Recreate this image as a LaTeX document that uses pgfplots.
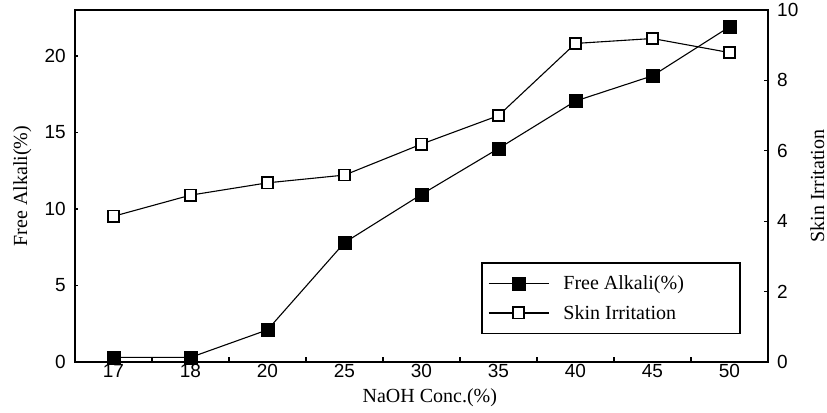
\documentclass[border=0pt]{standalone}
\usepackage{pgfplots}
\pgfplotsset{compat=1.18}
\usepackage{fontspec}
\setmainfont{Liberation Serif}
\newfontfamily\sansf{Liberation Sans}
\pgfplotstableread{
x y
0 0.3
1 0.3
2 2.1
3 7.8
4 10.95
5 13.95
6 17.05
7 18.7
8 21.9
}\freealkali
\pgfplotstableread{
x y
0 4.14
1 4.74
2 5.09
3 5.31
4 6.19
5 7.00
6 9.05
7 9.19
8 8.79
}\skinirr
\begin{document}
\begin{tikzpicture}
\path[use as bounding box] (-75bp,-51bp) rectangle (752bp,362bp);
\pgfplotsset{
  common/.style={
    scale only axis, width=693bp, height=352bp,
    at={(0,0)}, anchor=south west,
    xmin=-0.5, xmax=8.5, clip=false,
    tick align=inside,
    /pgf/number format/assume math mode=true,
    ticklabel style={font=\sansf\fontsize{19bp}{21bp}\selectfont},
    label style={font=\fontsize{20bp}{24bp}\selectfont},
    axis line style={line width=1.6bp},
    every tick/.style={black, line width=1.2bp},
  },
  fa/.style={black, line width=1.1bp, mark=square*, mark size=6.5bp, mark options={fill=black, draw=black, line width=0.5bp}},
  si/.style={black, line width=1.1bp, mark=square*, mark size=5.6bp, mark options={fill=white, draw=black, line width=1.6bp}},
}
\begin{axis}[common,
  ymin=0, ymax=23,
  ytick={0,5,10,15,20},
  ytick pos=left, xtick pos=bottom,
  major tick length=3.5bp, minor tick length=4.5bp,
  xtick={0,...,8},
  xticklabels={17,18,20,25,30,35,40,45,50},
  major x tick style={draw=none},
  minor xtick={0.5,1.5,...,7.5},
  xticklabel style={inner sep=0pt, yshift=-2bp},
  yticklabel style={inner sep=0pt, xshift=-9bp},
  xlabel={NaOH Conc.(\%)},
  xlabel style={at={(axis description cs:0.512,-0.074)}, anchor=north, inner sep=0pt},
  ylabel={Free Alkali(\%)},
  ylabel style={at={(axis description cs:-0.0895,0.5)}, anchor=north, inner sep=0pt},
]
\addplot[fa] table[x=x,y=y] {\freealkali};
\end{axis}
\begin{axis}[common,
  ymin=0, ymax=10,
  ytick={0,2,...,10},
  axis x line=none, axis y line*=right,
  major tick length=4bp,
  yticklabel style={inner sep=0pt, xshift=9bp, anchor=west},
  ylabel={Skin Irritation},
  ylabel style={at={(axis description cs:1.0606,0.5)}, anchor=north, inner sep=0pt},
  legend style={at={(0.586,0.284)}, anchor=north west, draw=black, line width=1.5bp,
    font=\fontsize{20bp}{24bp}\selectfont, inner xsep=6bp, inner ysep=11bp,
    row sep=10bp, column sep=12bp, cells={anchor=west}},
  legend image code/.code={\draw[mark repeat=2, mark phase=2, line width=1.6bp] plot coordinates {(0bp,0bp) (30bp,0bp) (60bp,0bp)};},
]
\addlegendimage{fa, line width=1.6bp}
\addlegendentry{Free Alkali(\%)\hspace*{48bp}}
\addplot[si] table[x=x,y=y] {\skinirr};
\addlegendentry{Skin Irritation\hspace*{48bp}}
\end{axis}
\end{tikzpicture}
\end{document}
